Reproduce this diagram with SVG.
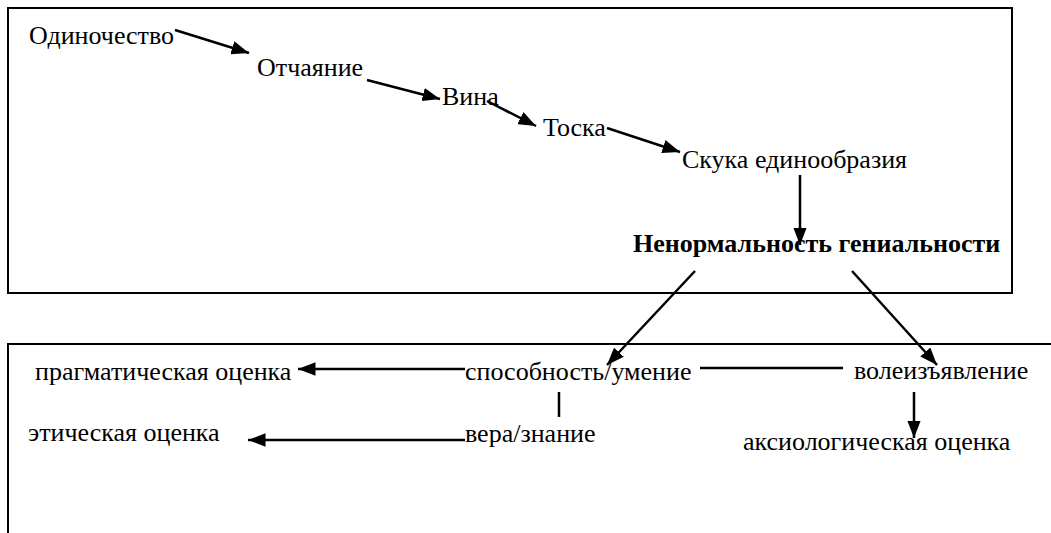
<svg xmlns="http://www.w3.org/2000/svg" width="1051" height="533" viewBox="0 0 1051 533">
<style>
text{font-family:"Liberation Serif","Times New Roman",serif;font-size:26px;fill:#000}
.b{font-weight:bold}
.frame{fill:none;stroke:#000;stroke-width:2}
.c{stroke:#000;stroke-width:2.5;fill:none}
.a{marker-end:url(#ah)}
</style>
<defs>
<marker id="ah" markerWidth="7" markerHeight="5.4" refX="7" refY="2.7" orient="auto" markerUnits="strokeWidth">
<path d="M0,0 L7,2.7 L0,5.4 Z" fill="#000"/>
</marker>
</defs>
<rect class="frame" x="8" y="8" width="1004" height="285"/>
<path class="frame" d="M8,533 L8,344 L1051,344"/>
<g id="connectors">
<line class="c a" x1="175" y1="30" x2="249" y2="53"/>
<line class="c a" x1="367" y1="80" x2="440" y2="99"/>
<line class="c a" x1="487" y1="101" x2="536" y2="126"/>
<line class="c a" x1="607" y1="128" x2="680" y2="152"/>
<line class="c a" x1="800" y1="175" x2="800" y2="245"/>
<line class="c a" x1="695" y1="271" x2="607" y2="365"/>
<line class="c a" x1="852" y1="271" x2="937" y2="365"/>
<line class="c a" x1="465" y1="369" x2="298" y2="369"/>
<line class="c a" x1="465" y1="440" x2="248" y2="440"/>
<line class="c" x1="700" y1="368" x2="843" y2="368"/>
<line class="c" x1="559" y1="392" x2="559" y2="417"/>
<line class="c a" x1="914" y1="392" x2="914" y2="438"/>
</g>
<g id="n1"><text x="29" y="44">Одиночество</text></g>
<g id="n2"><text x="257" y="76">Отчаяние</text></g>
<g id="n3"><text x="442" y="105">Вина</text></g>
<g id="n4"><text x="543" y="136">Тоска</text></g>
<g id="n5"><text x="682" y="168">Скука единообразия</text></g>
<g id="n6"><text class="b" x="633" y="252">Ненормальность гениальности</text></g>
<g id="n7"><text x="35" y="380">прагматическая оценка</text></g>
<g id="n8"><text x="465" y="380">способность/умение</text></g>
<g id="n9"><text x="854" y="379">волеизъявление</text></g>
<g id="n10"><text x="28" y="441">этическая оценка</text></g>
<g id="n11"><text x="465" y="442">вера/знание</text></g>
<g id="n12"><text x="743" y="450">аксиологическая оценка</text></g>
</svg>
